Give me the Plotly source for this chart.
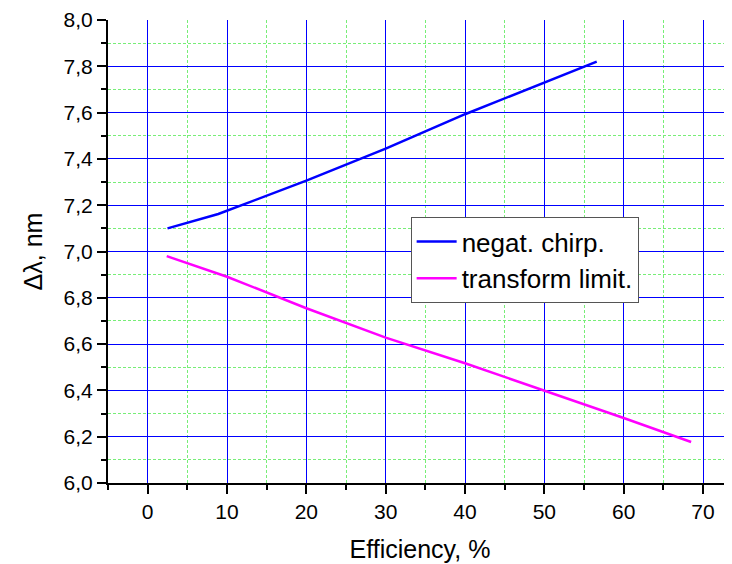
import plotly.graph_objects as go

# Data
chirp_x = [2.5, 8.9, 20, 30, 40, 50, 56.6]
chirp_y = [7.10, 7.162, 7.306, 7.444, 7.593, 7.731, 7.82]

tl_x = [2.4, 10, 20, 25, 30, 40, 50, 60, 68.5]
tl_y = [6.98, 6.891, 6.755, 6.69, 6.628, 6.517, 6.399, 6.281, 6.177]

names = ["negat. chirp.", "transform limit."]
colors = ["#0000ff", "#ff00ff"]

fig = go.Figure()
fig.add_trace(go.Scatter(x=chirp_x, y=chirp_y, mode="lines", name=names[0],
                         line=dict(color=colors[0], width=2.5)))
fig.add_trace(go.Scatter(x=tl_x, y=tl_y, mode="lines", name=names[1],
                         line=dict(color=colors[1], width=2.5)))

font = "Liberation Sans, Arial, sans-serif"
fig.update_layout(
    width=724, height=556,
    margin=dict(l=100, r=0, t=12, b=81),
    paper_bgcolor="white", plot_bgcolor="white",
    separators=", ",
    font=dict(family=font, color="black", size=21),
    showlegend=True,
    legend=dict(x=0.485, y=0.5745, xanchor="left", yanchor="top",
                bgcolor="white", bordercolor="#555555", borderwidth=1,
                font=dict(size=26), tracegroupgap=0, itemwidth=40),
)

minor_grid = "#77ee77"
fig.update_xaxes(
    range=[-5, 73.65], tick0=0, dtick=10,
    showline=True, linecolor="black", linewidth=2,
    ticks="outside", ticklen=9, tickwidth=2, tickcolor="black",
    showgrid=True, gridcolor="#0000ff", gridwidth=1,
    zeroline=False,
    tickfont=dict(size=21),
    title=dict(text="Efficiency, %", font=dict(size=25), standoff=18),
    minor=dict(dtick=5, tick0=0, showgrid=True, gridcolor=minor_grid, griddash="3px,2px",
               gridwidth=1, ticks="outside", ticklen=5, tickwidth=2, tickcolor="black"),
)
fig.update_yaxes(
    range=[6, 8], tick0=6, dtick=0.2, tickformat=".1f",
    showline=True, linecolor="black", linewidth=2,
    ticks="outside", ticklen=9, tickwidth=2, tickcolor="black",
    showgrid=True, gridcolor="#0000ff", gridwidth=1,
    zeroline=False,
    tickfont=dict(size=21),
    title=dict(text="Δλ, nm", font=dict(size=25), standoff=14),
    minor=dict(dtick=0.1, tick0=6, showgrid=True, gridcolor=minor_grid, griddash="3px,2px",
               gridwidth=1, ticks="outside", ticklen=5, tickwidth=2, tickcolor="black"),
)

fig.write_html("out.html")
